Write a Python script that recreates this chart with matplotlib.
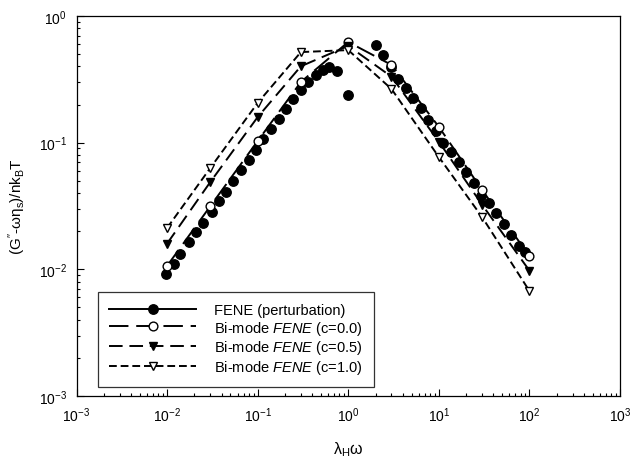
import matplotlib
matplotlib.use("Agg")
import matplotlib.pyplot as plt
from matplotlib.lines import Line2D
from matplotlib.ticker import LogLocator, NullFormatter

plt.rcParams["font.family"] = ["Liberation Sans", "DejaVu Sans"]
plt.rcParams["mathtext.fontset"] = "custom"
plt.rcParams["mathtext.rm"] = "Liberation Sans"
plt.rcParams["mathtext.it"] = "Liberation Sans:italic"
plt.rcParams["mathtext.sf"] = "Liberation Sans"
plt.rcParams["axes.unicode_minus"] = False

# FENE perturbation solution (filled circles)
fene_x = [0.0098, 0.012, 0.0139, 0.0173, 0.0209, 0.0251, 0.0313, 0.0371, 0.0447,
          0.0538, 0.0655, 0.0794, 0.0957, 0.115, 0.140, 0.170, 0.205, 0.247, 0.300,
          0.364, 0.440, 0.520, 0.615, 0.760, 1.0,
          2.0, 2.42, 2.93, 3.55, 4.3, 5.2, 6.3, 7.6, 9.3, 11.2, 13.6, 16.5, 20.0,
          24.2, 29.3, 35.5, 43.0, 52.0, 63.0, 76.0, 89.0]
fene_y = [0.00918, 0.01104, 0.01321, 0.01633, 0.01963, 0.02323, 0.02825, 0.03483,
          0.04102, 0.05012, 0.06124, 0.07295, 0.0881, 0.1072, 0.1282, 0.1535,
          0.1845, 0.2208, 0.2624, 0.2992, 0.3420, 0.3767, 0.3926, 0.3698, 0.2377,
          0.587, 0.495, 0.398, 0.319, 0.269, 0.227, 0.189, 0.152, 0.123, 0.1002,
          0.0845, 0.0698, 0.0582, 0.0481, 0.0382, 0.0334, 0.0280, 0.0229, 0.0186,
          0.0152, 0.0137]

# Bi-mode FENE model at three values of c
bimode_x = [0.01, 0.03, 0.1, 0.3, 1.0, 3.0, 10.0, 30.0, 100.0]
bimode_c00 = [0.01064, 0.0315, 0.1030, 0.3013, 0.6237, 0.4111, 0.1334, 0.04236, 0.01274]
bimode_c05 = [0.01596, 0.0489, 0.1592, 0.401, 0.581, 0.332, 0.1019, 0.0324, 0.00977]
bimode_c10 = [0.0212, 0.0631, 0.206, 0.519, 0.538, 0.2655, 0.0771, 0.0259, 0.00675]

labels = ["FENE (perturbation)",
          r"Bi-mode $\mathit{FENE}$ (c=0.0)",
          r"Bi-mode $\mathit{FENE}$ (c=0.5)",
          r"Bi-mode $\mathit{FENE}$ (c=1.0)"]

W, H = 633, 460
fig = plt.figure(figsize=(W / 100, H / 100), dpi=100)
ax = fig.add_axes([76.5 / W, 1 - 397 / H, 543.5 / W, 380 / H])

LW = 1.4
D00, D05, D10 = (10, 4), (7, 3.5), (4, 2)

ax.plot(fene_x, fene_y, linestyle="none", marker="o", ms=6.8,
        mfc="black", mec="black")
ax.plot(bimode_x, bimode_c00, color="black", lw=LW, dashes=D00,
        marker="o", ms=6.3, mfc="white", mec="black", mew=1.0)
ax.plot(bimode_x, bimode_c05, color="black", lw=LW, dashes=D05,
        marker="v", ms=6.3, mfc="black", mec="black")
ax.plot(bimode_x, bimode_c10, color="black", lw=LW, dashes=D10,
        marker="v", ms=6.3, mfc="white", mec="black", mew=1.0)

ax.set_xscale("log")
ax.set_yscale("log")
ax.set_xlim(1e-3, 1e3)
ax.set_ylim(1e-3, 1e0)

ax.xaxis.set_major_locator(LogLocator(base=10, numticks=10))
ax.yaxis.set_major_locator(LogLocator(base=10, numticks=10))
ax.xaxis.set_minor_locator(LogLocator(base=10, subs=range(2, 10), numticks=20))
ax.yaxis.set_minor_locator(LogLocator(base=10, subs=range(2, 10), numticks=20))
ax.xaxis.set_minor_formatter(NullFormatter())
ax.yaxis.set_minor_formatter(NullFormatter())
ax.tick_params(which="both", direction="in", top=False, right=False,
               labelsize=10, width=0.8)
ax.tick_params(which="major", length=5, pad=7)
ax.tick_params(which="minor", length=2.5)
for s in ax.spines.values():
    s.set_linewidth(0.9)

ax.set_xlabel(r"$\mathrm{\lambda_{H}\omega}$", fontsize=11.5, labelpad=11)
ax.set_ylabel(r"(G$''$-$\mathrm{\omega\eta_{s}}$)/nk$_{\rm B}$T", fontsize=11,
              labelpad=8)

handles = [
    Line2D([], [], color="black", lw=LW, marker="o", ms=6.8, mfc="black"),
    Line2D([], [], color="black", lw=LW, dashes=D00, marker="o", ms=6.3,
           mfc="white", mew=1.0),
    Line2D([], [], color="black", lw=LW, dashes=D05, marker="v", ms=6.3,
           mfc="black"),
    Line2D([], [], color="black", lw=LW, dashes=D10, marker="v", ms=6.3,
           mfc="white", mew=1.0),
]
leg = ax.legend(handles, labels, loc="lower left", bbox_to_anchor=(0.0396, 0.0237),
                fontsize=10.5, frameon=True, fancybox=False, edgecolor="black",
                handlelength=6.0, borderpad=0.75, labelspacing=0.12,
                handletextpad=1.2, borderaxespad=0)
leg.get_frame().set_linewidth(0.9)

fig.savefig("out.png", dpi=100)
